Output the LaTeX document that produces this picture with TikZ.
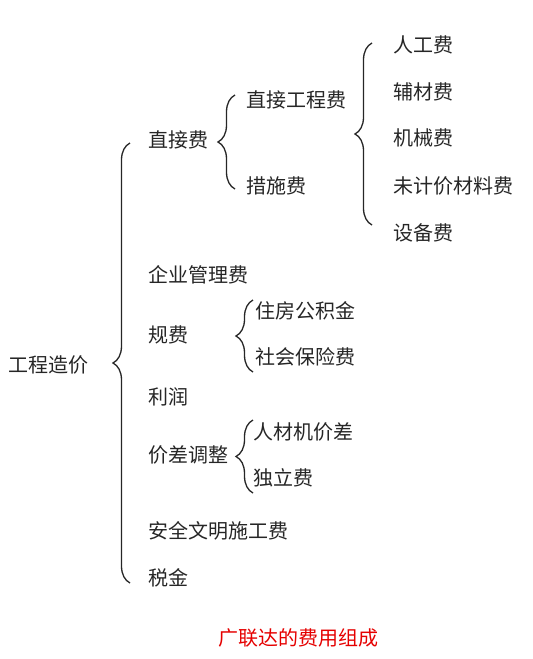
\documentclass[tikz,border=0pt]{standalone}
\usepackage{fontspec}
\setmainfont{Noto Sans CJK SC}
\usepackage{xcolor}
\usepackage{tikz}
\usetikzlibrary{decorations.pathreplacing,positioning,calc}

\begin{document}
\begin{tikzpicture}[
    x=1pt, y=-1pt,
    item/.style={anchor=west, inner sep=0pt, font=\fontsize{20}{23}\selectfont, text=black!85},
    brc/.style={decorate, decoration={brace, amplitude=17pt, aspect=0.5}, line width=1.3pt, black!85},
    caption/.style={item, text=red!90!black}
]
\useasboundingbox (0,0) rectangle (533,659);

% Root
\node[item] (root) at (8,365) {工程造价};

% First level
\node[item] (zjf)   at (148,140) {直接费};
\node[item] (qyglf) at (148,275) {企业管理费};
\node[item] (gf)    at (148,335) {规费};
\node[item] (lr)    at (148,397) {利润};
\node[item] (jctz)  at (148,455) {价差调整};
\node[item] (aqwm)  at (148,531) {安全文明施工费};
\node[item] (sj)    at (148,578) {税金};

% Second level
\node[item] (zjgcf) at (246,100) {直接工程费};
\node[item] (csf)   at (246,186) {措施费};
\node[item] (zfgjj) at (255,311) {住房公积金};
\node[item] (shbxf) at (255,357) {社会保险费};
\node[item] (rcjjc) at (253,432) {人材机价差};
\node[item] (dlf)   at (253,478) {独立费};

% Third level
\node[item] (rgf)    at (393,45)  {人工费};
\node[item] (fcf)    at (393,92)  {辅材费};
\node[item] (jxf)    at (393,138) {机械费};
\node[item] (wjjclf) at (393,186) {未计价材料费};
\node[item] (sbf)    at (393,233) {设备费};

% Braces
\draw[brc] (130,583) -- (130,143);
\draw[brc] (235,189) -- (235,95);
\draw[brc] (372,225) -- (372,43);
\draw[brc] (253,372) -- (253,300);
\draw[brc] (253,493) -- (253,420);

% Caption
\node[caption] (cap) at (218,638) {广联达的费用组成};

\end{tikzpicture}
\end{document}
